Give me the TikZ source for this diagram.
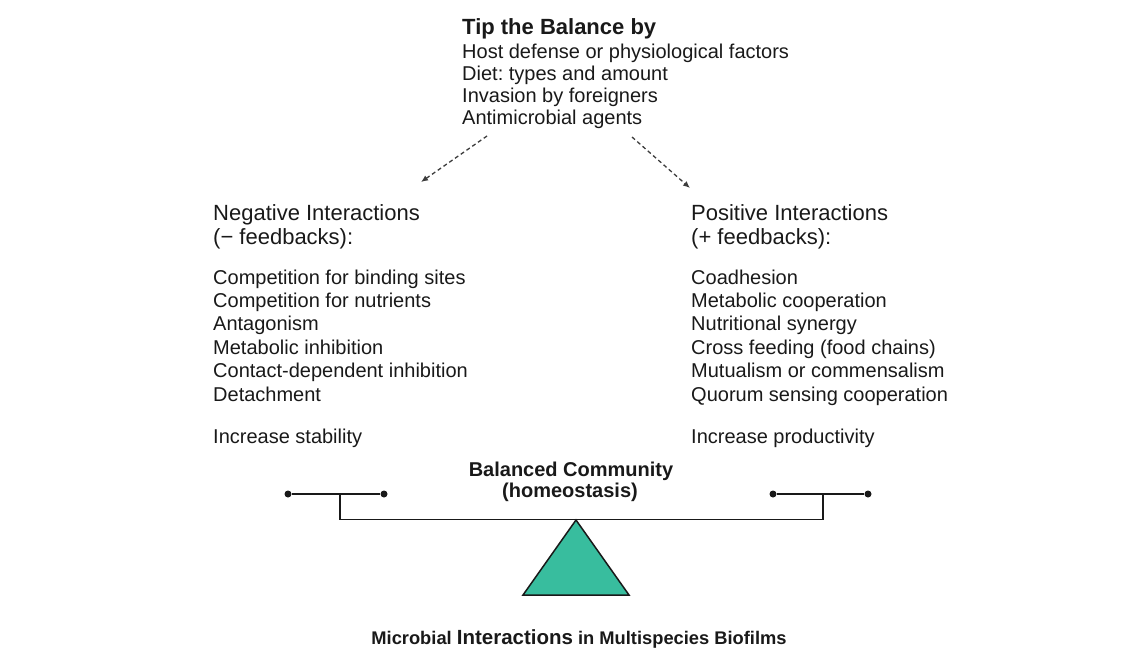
\documentclass[tikz,border=0pt]{standalone}
\usepackage{fontspec}
\setmainfont{Liberation Sans}
\usetikzlibrary{arrows.meta}
\definecolor{ink}{RGB}{25,25,25}
\definecolor{teal}{RGB}{56,189,158}
\definecolor{arrowgray}{RGB}{60,60,60}
\frenchspacing
\begin{document}
\begin{tikzpicture}[x=1pt,y=-1pt,
  txt/.style={anchor=base west, inner sep=0pt, text=ink, font=\fontsize{20}{24}\selectfont},
  headtxt/.style={anchor=base west, inner sep=0pt, text=ink, font=\fontsize{22}{26}\selectfont},
  titletxt/.style={anchor=base west, inner sep=0pt, text=ink, font=\fontsize{22}{26}\selectfont\bfseries},
  boldc/.style={anchor=base, inner sep=0pt, text=ink, font=\fontsize{20}{24}\selectfont\bfseries},
  dasharrow/.style={draw=arrowgray, line width=1.3pt, dash pattern=on 4pt off 3pt, -{Latex[length=7pt,width=6pt]}},
  beam/.style={draw=ink, line width=1.5pt},
  pan/.style={draw=ink, line width=1.1pt},
  dot/.style={circle, fill=ink, inner sep=0pt, minimum size=7pt},
  fulcrum/.style={draw=ink, line width=1.5pt, fill=teal, line join=miter}]
\useasboundingbox (0,0) rectangle (1140,649);

% Top block
\node[titletxt] (tip) at (462,34) {Tip the Balance by};
\node[txt] (h1) at (462,58) {Host defense or physiological factors};
\node[txt] (h2) at (462,80) {Diet: types and amount};
\node[txt] (h3) at (462,102) {Invasion by foreigners};
\node[txt] (h4) at (462,124) {Antimicrobial agents};

\coordinate (aLs) at (487,136);
\coordinate (aLe) at (421,182);
\coordinate (aRs) at (632,137);
\coordinate (aRe) at (690,188);
\draw[dasharrow] (aLs) -- (aLe);
\draw[dasharrow] (aRs) -- (aRe);

% Left column
\node[headtxt] (negh) at (213,220) {Negative Interactions};
\node[headtxt] (negf) at (213,244) {(− feedbacks):};
\node[txt] (n1) at (213,284) {Competition for binding sites};
\node[txt] (n2) at (213,307.4) {Competition for nutrients};
\node[txt] (n3) at (213,330.8) {Antagonism};
\node[txt] (n4) at (213,354.2) {Metabolic inhibition};
\node[txt] (n5) at (213,377.6) {Contact-dependent inhibition};
\node[txt] (n6) at (213,401) {Detachment};
\node[txt] (nres) at (213,443) {Increase stability};

% Right column
\node[headtxt] (posh) at (691,220) {Positive Interactions};
\node[headtxt] (posf) at (691,244) {(+ feedbacks):};
\node[txt] (p1) at (691,284) {Coadhesion};
\node[txt] (p2) at (691,307.4) {Metabolic cooperation};
\node[txt] (p3) at (691,330.8) {Nutritional synergy};
\node[txt] (p4) at (691,354.2) {Cross feeding (food chains)};
\node[txt] (p5) at (691,377.6) {Mutualism or commensalism};
\node[txt] (p6) at (691,401) {Quorum sensing cooperation};
\node[txt] (pres) at (691,443) {Increase productivity};

% Balanced community label
\node[boldc] (bal1) at (571,476) {Balanced Community};
\node[boldc] (bal2) at (570,497) {(homeostasis)};

% Balance
\node[dot] (dl1) at (288,494) {};
\node[dot] (dl2) at (384,494) {};
\node[dot] (dr1) at (773,494) {};
\node[dot] (dr2) at (868,494) {};
\draw[pan] (dl1) -- (dl2);
\draw[pan] (dr1) -- (dr2);
\coordinate (lt) at (340,494);
\coordinate (lb) at (340,519.5);
\coordinate (rt) at (823,494);
\coordinate (rb) at (823,519.5);
\draw[beam] (lt) -- (lb) -- (rb) -- (rt);
\coordinate (apex) at (576,520);
\coordinate (bl) at (523,595);
\coordinate (br) at (629,595);
\draw[fulcrum] (apex) -- (br) -- (bl) -- cycle;

% Bottom title
\node[anchor=base, inner sep=0pt, text=ink, font=\fontsize{18.3}{22}\selectfont\bfseries] (cap) at (579,644)
  {Microbial {\fontsize{20.5}{22}\selectfont Interactions} in Multispecies Biofilms};
\end{tikzpicture}
\end{document}
